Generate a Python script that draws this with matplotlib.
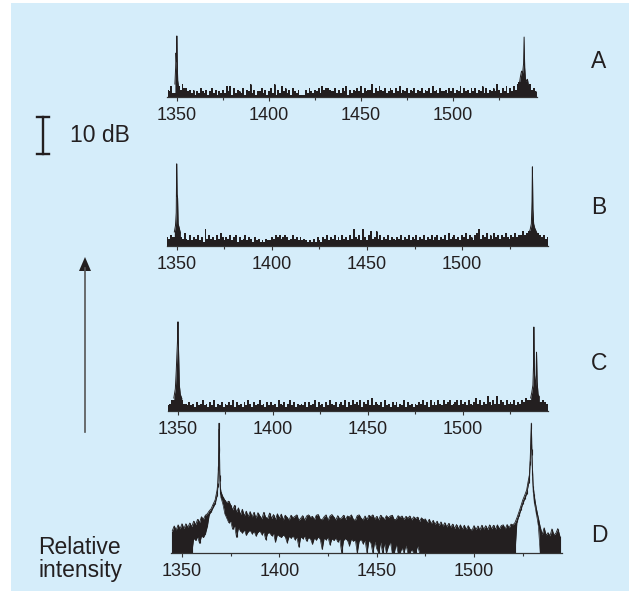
import numpy as np
import matplotlib
matplotlib.use("Agg")
import matplotlib.pyplot as plt
from matplotlib.patches import Rectangle, Polygon
from matplotlib.lines import Line2D

plt.rcParams['font.family'] = ['Liberation Sans', 'DejaVu Sans']

INK = '#231f20'
BLUE = '#d5edfa'
FIG_W, FIG_H = 638, 604
PX_PER_DB = 3.7

# ---------------------------------------------------------------------------
# Spectra A-C: noise floor sampled every 1 nm from 1345 to 1545 nm.
# Each digit is the level above the floor in steps of 0.5 dB.
# ---------------------------------------------------------------------------
noise_grid_nm = np.arange(1345, 1546)
NOISE_STEP_DB = 0.5

noise_a = ("4362536475" "5342413253" "2413524132" "4263615243" "2514372413"
           "3524135271" "4263524153" "2411142532" "4352645543" "3524253614"
           "2435362534" "4725364352" "3542536243" "5243524352" "4352634253"
           "3425352436" "2534253524" "3625243537" "4253625364" "7858465745"
           "3")
noise_b = ("5465876547" "4363546352" "9464536475" "3546356253" "4635425342"
           "3243354656" "4565346453" "5343232425" "3254635463" "5364536495"
           "4639536845" "8463546354" "3546354635" "4635463546" "3563546374"
           "5645365746" "5367946574" "6475646575" "4657566867" "8899876564"
           "5")
noise_c = ("3465687644" "3534253463" "4253624352" "4353625342" "5364253463"
           "4253534264" "3524635243" "4352534625" "3425364352" "4536253645"
           "3625463735" "4352634253" "5243625342" "4354635263" "5364364563"
           "4563645364" "3574635485" "3648465364" "5463546576" "6766665654"
           "3")

# Laser lines (nm, dB above floor)
peak_a1_nm = [1348.9, 1349.3, 1349.5, 1349.75, 1349.95, 1350.15, 1350.4, 1350.8]
peak_a1_db = [3.5, 8.0, 11.9, 9.5, 16.5, 10.0, 4.5, 3.0]
peak_a2_nm = [1536.0, 1536.6, 1537.2, 1537.8, 1538.3, 1538.6, 1538.9, 1539.3, 1539.8, 1540.4, 1541.0]
peak_a2_db = [3.5, 5.5, 7.0, 6.5, 9.0, 16.2, 8.0, 5.0, 4.2, 4.8, 3.0]

peak_b1_nm = [1348.6, 1349.2, 1349.6, 1349.85, 1350.05, 1350.3, 1350.6, 1351.1, 1351.8]
peak_b1_db = [3.8, 5.5, 9.0, 22.2, 14.0, 13.0, 6.0, 5.0, 3.5]
peak_b2_nm = [1535.2, 1535.9, 1536.5, 1536.85, 1537.05, 1537.3, 1537.7, 1538.3, 1539.0, 1539.6]
peak_b2_db = [3.5, 4.5, 6.0, 12.0, 21.4, 10.0, 6.0, 4.8, 4.0, 3.2]

peak_c1_nm = [1347.8, 1348.6, 1349.1, 1349.4, 1349.7, 1350.0, 1350.3, 1350.7, 1351.2, 1352.0]
peak_c1_db = [3.5, 6.0, 11.0, 15.0, 18.4, 24.1, 16.0, 7.0, 4.5, 3.4]
peak_c2_nm = [1535.6, 1536.2, 1536.8, 1537.1, 1537.3, 1537.6, 1538.1, 1538.5, 1538.7, 1539.0, 1539.5, 1540.2]
peak_c2_db = [3.5, 5.0, 7.0, 12.0, 22.7, 10.0, 6.0, 10.0, 15.9, 8.0, 4.5, 3.8]

# ---------------------------------------------------------------------------
# Spectrum D: broadband emission, upper and lower trace envelope every 1 nm
# from 1345 to 1544 nm (dB above floor).
# ---------------------------------------------------------------------------
band_grid_nm = np.arange(1345, 1545)
band_d_top = [
    6.0, 7.3, 6.2, 7.6, 6.5, 7.9, 6.6, 7.9, 6.9, 8.1,
    7.1, 8.6, 7.6, 9.1, 8.2, 9.8, 9.1, 10.2, 10.6, 11.4,
    12.0, 13.2, 14.3, 17.0, 20.0, 16.5, 15.2, 14.3, 13.6, 14.0,
    13.0, 11.6, 12.9, 11.0, 12.2, 10.3, 11.8, 10.0, 11.3, 9.8,
    11.2, 9.7, 11.0, 9.4, 10.9, 10.0, 9.2, 11.0, 9.6, 9.3,
    10.8, 9.3, 10.4, 9.0, 10.6, 9.4, 10.5, 8.9, 10.2, 9.6,
    8.9, 10.2, 9.5, 9.9, 10.3, 8.8, 9.4, 10.1, 8.8, 10.0,
    10.3, 9.6, 9.9, 9.0, 10.2, 10.4, 9.1, 9.0, 9.8, 10.3,
    8.8, 10.0, 10.4, 9.7, 8.9, 10.1, 9.2, 9.5, 10.2, 9.0,
    10.0, 9.7, 10.3, 9.1, 8.8, 10.1, 10.3, 9.4, 8.9, 10.0,
    9.0, 10.2, 9.8, 10.3, 9.1, 9.9, 8.9, 10.2, 9.6, 9.0,
    10.1, 9.5, 10.0, 10.2, 9.0, 9.1, 10.1, 9.6, 10.0, 9.0,
    9.9, 9.4, 10.0, 8.9, 9.8, 9.3, 9.7, 8.5, 9.5, 9.0,
    9.2, 8.1, 9.1, 7.9, 8.8, 7.7, 8.6, 7.4, 8.4, 7.2,
    8.2, 7.0, 8.0, 6.9, 7.8, 6.6, 7.7, 6.5, 7.6, 6.4,
    7.5, 6.3, 7.4, 6.4, 6.2, 7.4, 6.3, 7.3, 6.2, 7.5,
    6.4, 7.4, 6.3, 7.6, 6.5, 7.5, 6.4, 7.6, 6.5, 7.4,
    7.6, 6.5, 7.7, 6.8, 7.8, 7.6, 8.2, 9.5, 11.0, 12.6,
    14.3, 15.6, 17.0, 20.0, 24.0, 22.0, 15.1, 12.0, 9.5, 7.0,
    5.0, 6.8, 4.8, 5.5, 4.6, 6.5, 4.9, 5.3, 6.6, 4.7,
]
band_d_bottom = [
    0, 0, 0, 0, 0, 0, 0, 0, 0, 0,
    0, 4.0, 3.4, 4.4, 2.6, 4.6, 4.2, 5.2, 7.2, 10.4,
    11.2, 12.3, 13.3, 15.5, 18.0, 15.0, 13.2, 10.6, 9.4, 8.2,
    8.6, 6.4, 7.4, 4.2, 6.8, 6.0, 5.4, 6.3, 4.8, 5.8,
    6.1, 5.2, 5.9, 4.6, 5.6, 6.0, 5.0, 5.7, 3.6, 5.4,
    5.5, 4.7, 5.3, 3.0, 5.0, 4.6, 4.2, 4.9, 4.4, 2.8,
    4.5, 4.0, 4.7, 3.6, 4.3, 1.6, 4.4, 3.9, 4.6, 3.2,
    4.2, 3.8, 2.4, 4.1, 3.5, 4.4, 3.7, 1.0, 4.0, 3.6,
    4.3, 2.2, 3.9, 3.4, 4.1, 3.0, 3.8, 0.0, 3.6, 3.9,
    3.4, 2.0, 3.8, 3.2, 3.6, 0.0, 3.3, 3.7, 2.5, 3.5,
    0.0, 3.4, 2.8, 0.0, 3.2, 1.2, 0.0, 3.0, 0.0, 2.6,
    0.0, 1.8, 3.1, 0.0, 0.0, 2.4, 0.0, 0.0, 1.5, 0.0,
    2.2, 0.0, 0.0, 1.0, 0.0, 0.0, 2.0, 0.0, 0.0, 0.0,
    0, 0, 0, 0, 0, 0, 0, 0, 0, 0,
    0, 0, 0, 0, 0, 0, 0, 0, 0, 0,
    0, 0, 0, 0, 0, 0, 0, 0, 0, 0,
    0, 0, 0, 0, 0, 0, 0, 0, 0, 0,
    0, 0, 0, 0, 0, 0, 0, 8.3, 10.0, 11.6,
    13.3, 14.6, 16.0, 18.8, 22.0, 20.0, 13.5, 10.6, 7.5, 0,
    0, 0, 0, 0, 0, 0, 0, 0, 0, 0,
]
peak_d1_nm = [1368.4, 1368.7, 1368.9, 1369.05, 1369.2, 1369.45, 1369.75]
peak_d1_top = [19.0, 23.5, 29.0, 35.1, 28.5, 21.0, 17.5]
peak_d1_bottom = [17.8, 22.3, 27.5, 33.5, 27.0, 19.5, 16.0]
peak_d2_nm = [1528.4, 1528.8, 1529.1, 1529.4, 1529.7, 1530.0, 1530.4, 1530.8]
peak_d2_top = [21.0, 25.0, 29.5, 35.1, 28.0, 22.5, 18.0, 16.0]
peak_d2_bottom = [19.8, 23.8, 28.0, 33.5, 26.5, 21.0, 16.5, 14.5]

panel_letters = ['A', 'B', 'C', 'D']
major_ticks = [1350, 1400, 1450, 1500]
minor_ticks = [1375, 1425, 1475, 1525]


def outside_peaks(grid_x, peaks):
    x = np.asarray(grid_x, dtype=float)
    keep = np.ones(x.shape, dtype=bool)
    for px, *_ in peaks:
        keep &= ~((x > min(px)) & (x < max(px)))
    return keep


def merge_lines(grid_x, grid_cols, peaks):
    """Splice finely sampled laser lines into a 1-nm grid."""
    x = np.asarray(grid_x, dtype=float)
    cols = [np.asarray(c, dtype=float) for c in grid_cols]
    keep = outside_peaks(x, peaks)
    xs = np.concatenate([x[keep]] + [np.asarray(p[0], float) for p in peaks])
    out_cols = []
    for i, c in enumerate(cols):
        out_cols.append(np.concatenate([c[keep]] + [np.asarray(p[i + 1], float) for p in peaks]))
    order = np.argsort(xs)
    return xs[order], [c[order] for c in out_cols]


def decode(s):
    return np.array([int(ch) for ch in s]) * NOISE_STEP_DB


fig = plt.figure(figsize=(FIG_W / 100, FIG_H / 100), dpi=100)
fig.patch.set_facecolor('white')
fig.patches.append(Rectangle((11 / FIG_W, (FIG_H - 591) / FIG_H), (629 - 11) / FIG_W, (591 - 3) / FIG_H,
                             transform=fig.transFigure, facecolor=BLUE, edgecolor='none', zorder=-10))


def make_axes(baseline_px, left_px, right_px, ymax_db):
    h = ymax_db * PX_PER_DB
    ax = fig.add_axes([left_px / FIG_W, (FIG_H - baseline_px) / FIG_H,
                       (right_px - left_px) / FIG_W, h / FIG_H])
    ax.patch.set_alpha(0)
    for s in ('left', 'right', 'top'):
        ax.spines[s].set_visible(False)
    ax.spines['bottom'].set_color('#333333')
    ax.spines['bottom'].set_linewidth(0.9)
    ax.set_yticks([])
    ax.set_ylim(0, ymax_db)
    ax.set_xticks(major_ticks)
    ax.set_xticks(minor_ticks, minor=True)
    ax.tick_params(axis='x', which='major', direction='out', length=3.0, width=0.8,
                   color='#333333', labelsize=13, labelcolor=INK, pad=4)
    ax.tick_params(axis='x', which='minor', direction='out', length=2.2, width=0.8, color='#333333')
    return ax


# panel geometry: (baseline px, left px, right px, xlim)
layout = [
    (97, 167, 537, (1344.6, 1545.6)),
    (246, 167, 548, (1344.74, 1545.26)),
    (411, 168, 548, (1344.74, 1544.74)),
    (553, 171, 562, (1344.35, 1545.17)),
]

noise_sets = [
    (noise_a, [(peak_a1_nm, peak_a1_db), (peak_a2_nm, peak_a2_db)]),
    (noise_b, [(peak_b1_nm, peak_b1_db), (peak_b2_nm, peak_b2_db)]),
    (noise_c, [(peak_c1_nm, peak_c1_db), (peak_c2_nm, peak_c2_db)]),
]

for i, (noise, peaks) in enumerate(noise_sets):
    base, l, r, xl = layout[i]
    ax = make_axes(base, l, r, 26)
    ax.set_xlim(*xl)
    levels = decode(noise)
    keep = outside_peaks(noise_grid_nm, peaks)
    # noise samples drawn as a stepped trace filled down to the floor
    ax.fill_between(noise_grid_nm[keep], 0, levels[keep], step='mid', color=INK, lw=0)
    ax.vlines(noise_grid_nm[keep], 0, levels[keep], color=INK, lw=0.7)
    for px, py in peaks:
        ax.fill_between(px, 0, py, color=INK, lw=0)
        ax.plot(px, py, color=INK, lw=0.7)

base, l, r, xl = layout[3]
ax = make_axes(base, l, r, 38)
ax.set_xlim(*xl)
x, (top, bottom) = merge_lines(band_grid_nm, [band_d_top, band_d_bottom],
                               [(peak_d1_nm, peak_d1_top, peak_d1_bottom),
                                (peak_d2_nm, peak_d2_top, peak_d2_bottom)])
ax.fill_between(x, bottom, top, color=INK, lw=0)
ax.vlines(x, bottom, top, color=INK, lw=0.8)
ax.plot(x, top, color=INK, lw=0.6)
ax.plot(x, bottom, color=INK, lw=0.5)

# overlay in pixel coordinates for annotations
ov = fig.add_axes([0, 0, 1, 1])
ov.set_xlim(0, FIG_W)
ov.set_ylim(FIG_H, 0)
ov.axis('off')
ov.patch.set_alpha(0)

letter_y = [62, 207, 363, 535]
for letter, yy in zip(panel_letters, letter_y):
    ov.text(599, yy, letter, fontsize=16.5, color=INK, ha='center', va='center')

# 10 dB scale bar
bar_top = 117
bar_len = 10 * PX_PER_DB
bx = 43
ov.add_line(Line2D([bx, bx], [bar_top, bar_top + bar_len], color=INK, lw=1.7))
ov.add_line(Line2D([bx - 6, bx + 6], [bar_top, bar_top], color=INK, lw=1.7))
ov.add_line(Line2D([bx - 6, bx + 6], [bar_top + bar_len, bar_top + bar_len], color=INK, lw=1.7))
ov.text(70, bar_top + bar_len / 2, '10 dB', fontsize=16.5, color=INK, ha='left', va='center')

# intensity arrow
ax_x = 85
ov.add_line(Line2D([ax_x, ax_x], [432, 268], color='#555555', lw=1.2))
ov.add_patch(Polygon([[ax_x, 257], [ax_x - 6, 271], [ax_x + 6, 271]], closed=True,
                     facecolor=INK, edgecolor='none'))

ov.text(38, 548, 'Relative', fontsize=16.5, color=INK, ha='left', va='center')
ov.text(38, 570, 'intensity', fontsize=16.5, color=INK, ha='left', va='center')

fig.savefig('out.png', dpi=100, facecolor='white')
